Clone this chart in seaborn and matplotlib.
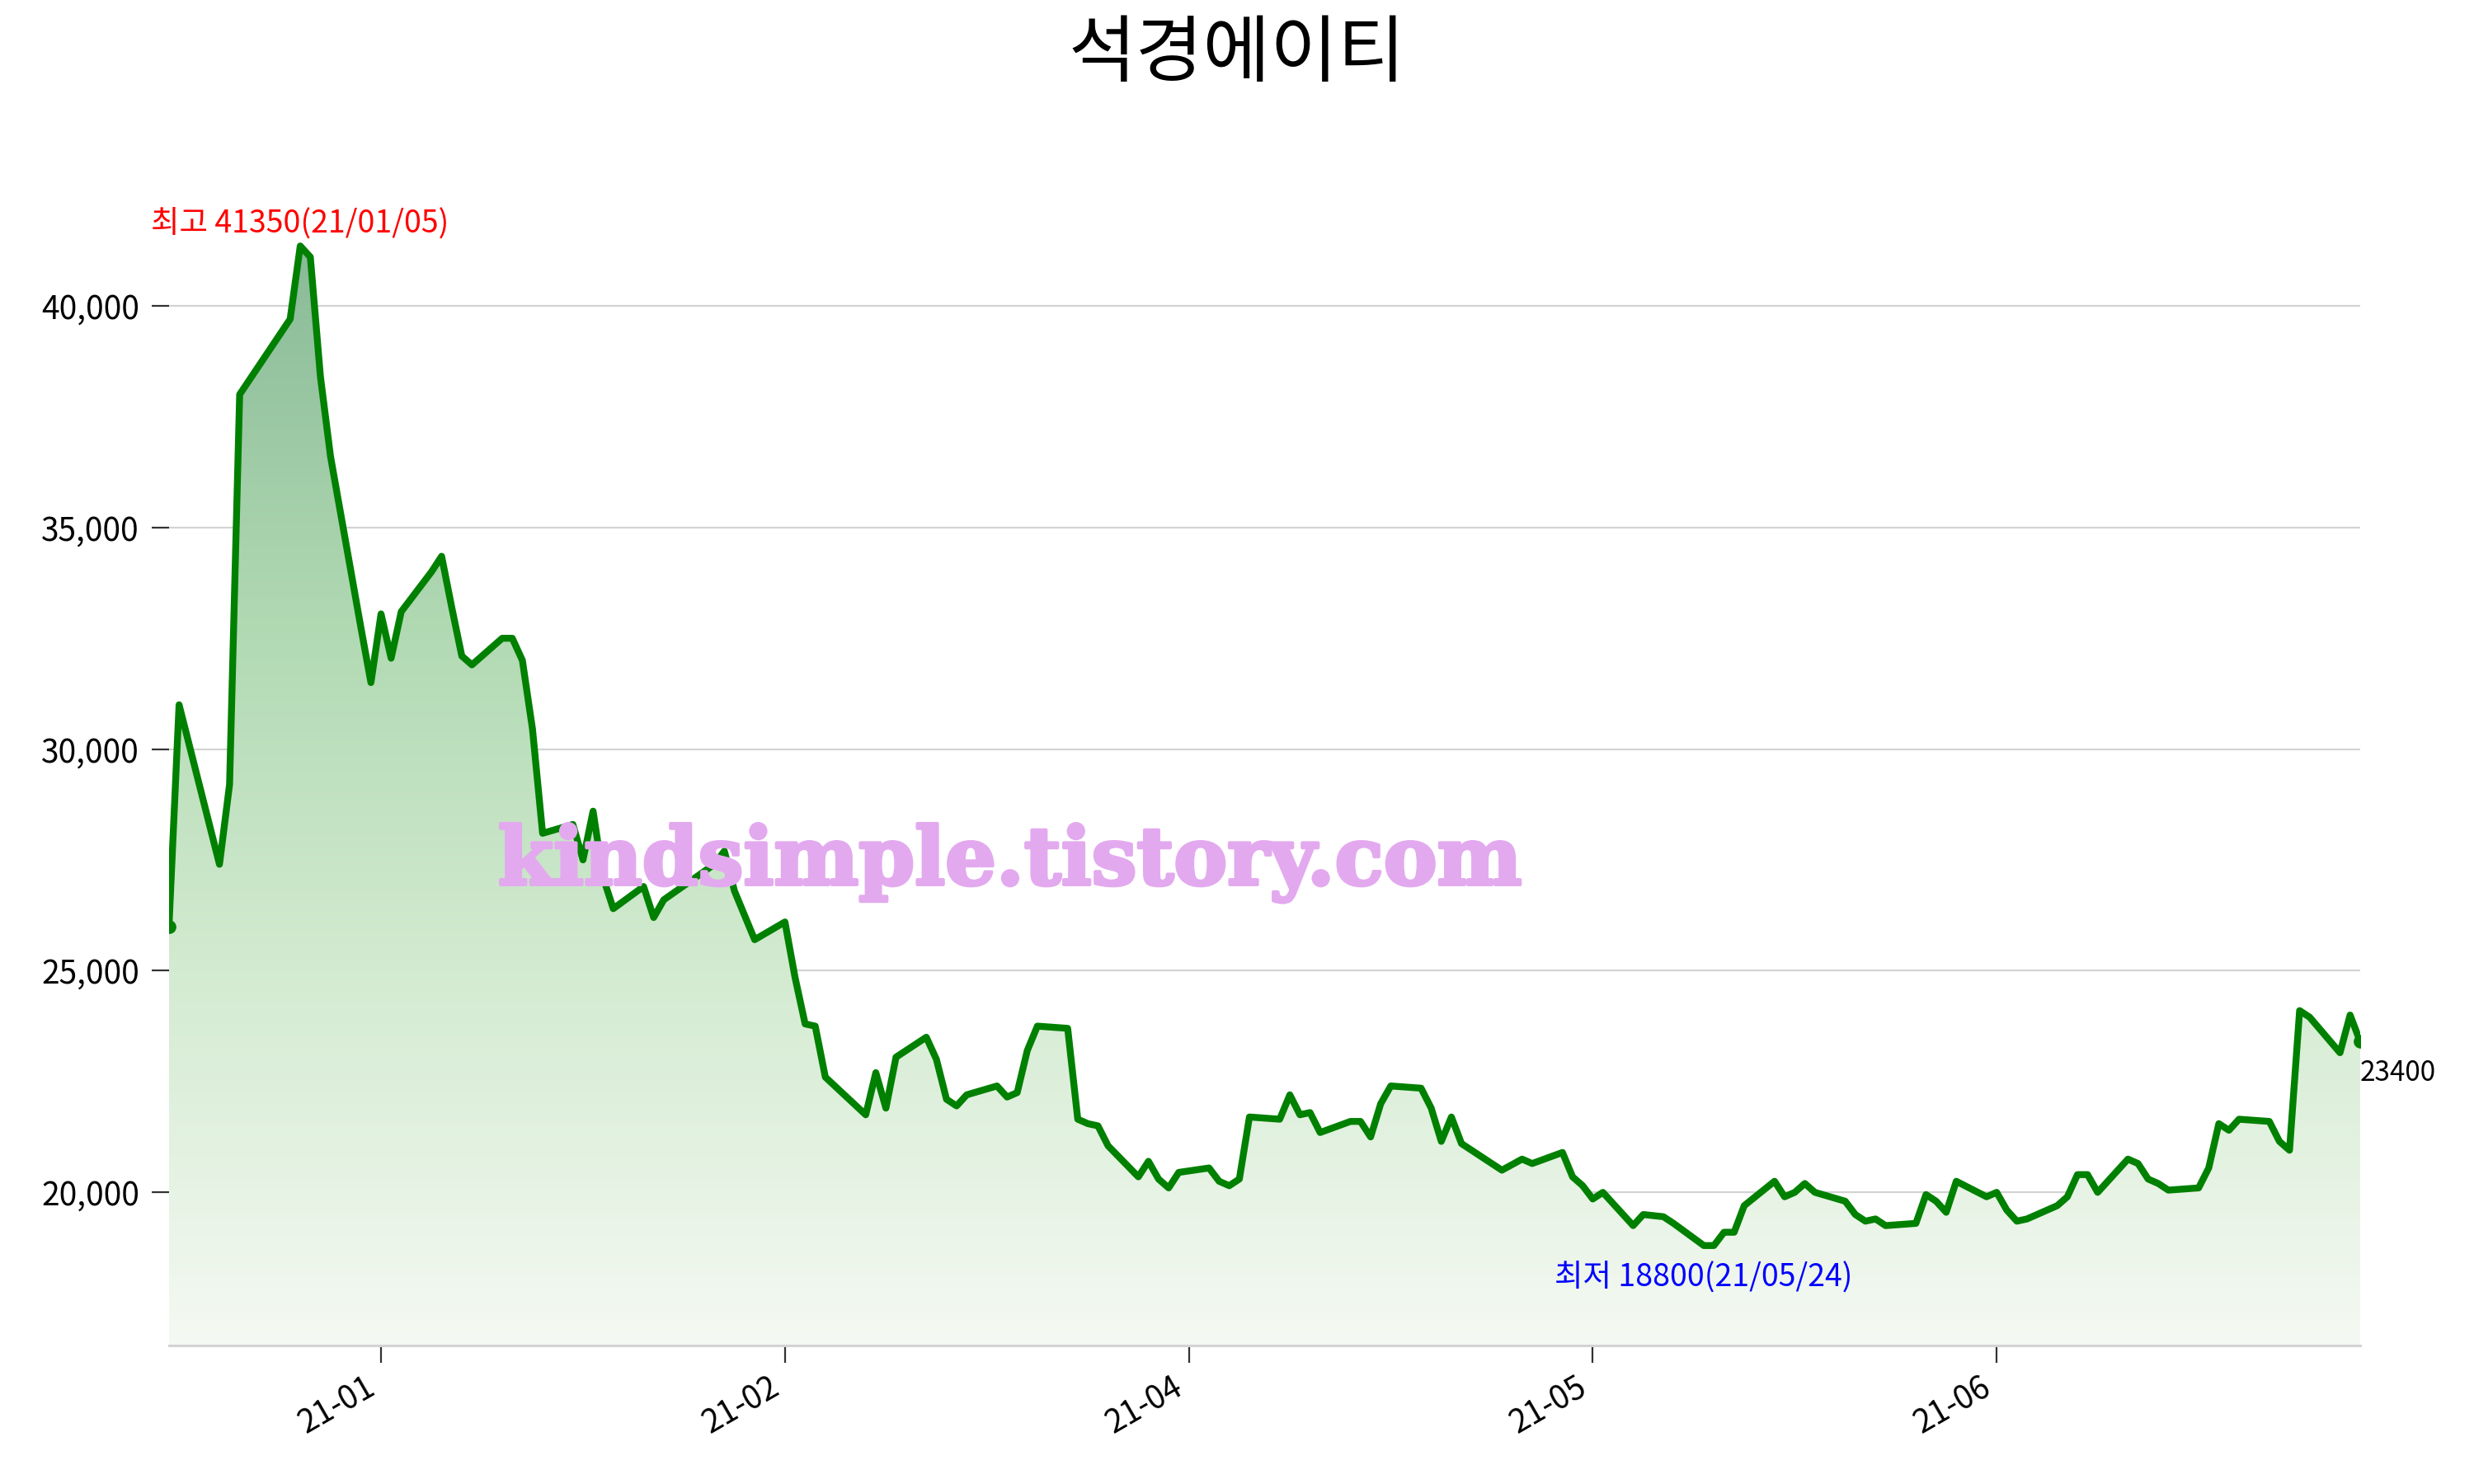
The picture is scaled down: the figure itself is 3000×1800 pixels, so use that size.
import numpy as np
import pandas as pd
import matplotlib
matplotlib.use('Agg')
import matplotlib.pyplot as plt
import matplotlib.dates as mdates
import matplotlib.ticker as ticker
import matplotlib.patheffects as pe
from matplotlib.colors import LinearSegmentedColormap
import seaborn as sns

# stock name and trading calendar
title = '석경에이티'
start_date, end_date = '2020-12-23', '2021-07-28'
holidays = ['2020-12-25', '2020-12-31', '2021-01-01', '2021-02-11', '2021-02-12',
            '2021-03-01', '2021-05-05', '2021-05-19']

# daily close (one list per month)
close_dec = [26000, 31000, 27400, 29200, 38000]
close_jan = [39700, 41350, 41100, 38400, 36600, 32750, 31500, 33050, 32050, 33100,
             34000, 34350, 33200, 32100, 31900, 32500, 32500, 32000, 30450, 28100]
close_feb = [28300, 27500, 28600, 27100, 26400, 26900, 26200, 26600, 27400, 27700,
             26800, 26250, 25700, 26100, 24850, 23800, 23750, 22600]
close_mar = [21750, 22700, 21900, 23050, 23500, 23000, 22100, 21950, 22200, 22400,
             22150, 22250, 23200, 23750, 23700, 21650, 21550, 21500, 21050, 20350,
             20700, 20300]
close_apr = [20100, 20450, 20550, 20250, 20150, 20300, 21700, 21650, 22200, 21750,
             21800, 21350, 21600, 21600, 21250, 22000, 22400, 22350, 21900, 21150,
             21700, 21100]
close_may = [20650, 20500, 20750, 20650, 20900, 20350, 20150, 19850, 20000, 19250,
             19500, 19450, 19300, 18800, 18800, 19100, 19100, 19700, 20250]
close_jun = [19900, 20000, 20200, 20000, 19800, 19500, 19350, 19400, 19250, 19300,
             19950, 19800, 19550, 20250, 19900, 20000, 19600, 19350, 19400, 19700,
             19900, 20400]
close_jul = [20400, 20000, 20750, 20650, 20300, 20200, 20050, 20100, 20550, 21550,
             21400, 21650, 21600, 21150, 20950, 24100, 23950, 23150, 24000, 23400]

close = close_dec + close_jan + close_feb + close_mar + close_apr + close_may + close_jun + close_jul
dates = pd.bdate_range(start_date, end_date, freq='C', holidays=holidays)
df = pd.DataFrame({'date': dates, 'close': close})

sns.set_theme(style='white')
plt.rcParams['font.family'] = ['Noto Sans CJK KR', 'DejaVu Sans']
plt.rcParams['axes.unicode_minus'] = False
plt.rcParams['text.color'] = 'black'

fig = plt.figure(figsize=(15, 9), dpi=200)
ax = fig.add_axes([0.0683, 0.0933, 0.8857, 0.8027])

hi_idx = df['close'].idxmax()
lo_idx = df['close'].idxmin()
hi_val, lo_val = df.loc[hi_idx, 'close'], df.loc[lo_idx, 'close']
hi_date, lo_date = df.loc[hi_idx, 'date'], df.loc[lo_idx, 'date']
ymin, ymax = lo_val * 0.88, hi_val * 1.05

# line
sns.lineplot(data=df, x='date', y='close', color='green', linewidth=3.0, ax=ax, zorder=3)
ax.lines[0].set_solid_joinstyle('round')
ax.plot(df['date'].iloc[[0, -1]], df['close'].iloc[[0, -1]], 'o', color='green',
        markersize=5, zorder=4)

# gradient fill under the line
xnum = mdates.date2num(df['date'])
poly = ax.fill_between(df['date'], df['close'], ymin, facecolor='none', linewidth=0)
stops = [(0.0, '#f5f9f3'), (0.34, '#d3ebd1'), (0.66, '#b0d9b2'), (1.0, '#89ba97')]
cmap = LinearSegmentedColormap.from_list('fill', stops)
grad = np.linspace(0, 1, 256).reshape(-1, 1)
im = ax.imshow(grad, extent=[xnum[0], xnum[-1], ymin, hi_val], origin='lower',
               aspect='auto', cmap=cmap, zorder=1)
im.set_clip_path(poly.get_paths()[0], transform=ax.transData)

ax.set_xlim(xnum[0], xnum[-1])
ax.set_ylim(ymin, ymax)

# axes style
ax.yaxis.grid(True, color='#d3d3d3', linewidth=0.8)
ax.set_axisbelow(True)
for side in ['left', 'right', 'top']:
    ax.spines[side].set_visible(False)
ax.spines['bottom'].set_color('#d3d3d3')
ax.spines['bottom'].set_linewidth(1.1)
ax.yaxis.set_major_locator(ticker.MultipleLocator(5000))
ax.yaxis.set_major_formatter(ticker.FuncFormatter(lambda v, p: f'{v:,.0f}'))
ax.xaxis.set_major_locator(ticker.MultipleLocator(40))
ax.xaxis.set_major_formatter(mdates.DateFormatter('%y-%m'))
ax.tick_params(axis='both', which='major', length=7.5, width=0.8, color='#333333',
               labelsize=14, labelcolor='black', left=True, bottom=True)
ax.tick_params(axis='y', pad=5.5)
plt.setp(ax.get_xticklabels(), rotation=30, ha='right')
ax.set_xlabel('')
ax.set_ylabel('')

# annotations
ax.text(hi_date, hi_val * 1.003, f'최고 {hi_val}({hi_date:%y/%m/%d})', color='red',
        ha='center', va='bottom', fontsize=13.5)
ax.text(lo_date, lo_val * 0.98, f'최저 {lo_val}({lo_date:%y/%m/%d})', color='blue',
        ha='center', va='top', fontsize=13.5)
ax.text(df['date'].iloc[-1], df['close'].iloc[-1] * 0.97, f"{df['close'].iloc[-1]}",
        ha='left', va='center', fontsize=12, color='black', clip_on=False)

# watermark
ax.text(0.384, 0.405, 'kindsimple.tistory.com', transform=ax.transAxes, ha='center',
        va='center', fontsize=35, fontweight='bold', family='DejaVu Serif',
        color='#e3a9ef', zorder=5,
        path_effects=[pe.withStroke(linewidth=1.5, foreground='#e3a9ef')])

fig.text(0.5, 0.963, title, ha='center', va='center', fontsize=32, color='black')

fig.savefig('out.png', dpi=200)
